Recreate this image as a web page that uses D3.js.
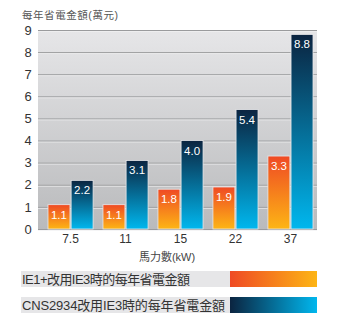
<!DOCTYPE html>
<html><head><meta charset="utf-8">
<script src="https://cdn.jsdelivr.net/npm/d3@7"></script>
<style>body{margin:0;background:#fff;} svg{display:block;font-family:"Liberation Sans","Noto Sans CJK TC",sans-serif;}</style>
</head><body>
<svg id="c" width="339" height="322"></svg>
<script>
const categories = ["7.5","11","15","22","37"];
const seriesIE1 = [1.1,1.1,1.8,1.9,3.3];
const seriesCNS = [2.2,3.1,4.0,5.4,8.8];
const yTicks = [0,1,2,3,4,5,6,7,8,9];
const seriesNames = ["IE1+改用IE3時的每年省電金額","CNS2934改用IE3時的每年省電金額"];
const yTitle = "每年省電金額(萬元)";
const xTitle = "馬力數(kW)";

const svg = d3.select("#c");
const defs = svg.append("defs");
function grad(id, x2, y2, stops){
  const g = defs.append("linearGradient").attr("id",id).attr("x1",0).attr("y1",0).attr("x2",x2).attr("y2",y2);
  stops.forEach(s=>g.append("stop").attr("offset",s[0]).attr("stop-color",s[1]));
}
grad("bg",0,1,[[0,"#e6e6e8"],[1,"#b9babc"]]);
grad("orV",0,1,[[0,"#ef4a24"],[1,"#fdb515"]]);
grad("blV",0,1,[[0,"#0b2440"],[1,"#00b7ee"]]);
grad("orH",1,0,[[0,"#ef4a24"],[1,"#fdb515"]]);
grad("blH",1,0,[[0,"#0b2440"],[1,"#00b7ee"]]);

const plotL = 38, plotR = 317, plotT = 30, plotB = 229;
const y = d3.scaleLinear().domain([0,9]).range([plotB, plotT]);
const x0 = d3.scaleBand().domain(categories).range([48,313]).paddingInner(0.18).paddingOuter(0);
const x1 = d3.scaleBand().domain([0,1]).range([0,x0.bandwidth()]).paddingInner(0.05);

svg.append("rect").attr("x",plotL).attr("y",plotT).attr("width",plotR-plotL).attr("height",plotB-plotT).attr("fill","url(#bg)");

// gridlines
const grid = svg.append("g");
yTicks.forEach(t=>{
  grid.append("line").attr("x1",plotL).attr("x2",plotR).attr("y1",y(t)+0.5).attr("y2",y(t)+0.5).attr("stroke","#9a9b9d").attr("stroke-width",1);
  grid.append("line").attr("x1",plotL).attr("x2",plotR).attr("y1",y(t)+1.5).attr("y2",y(t)+1.5).attr("stroke","#f2f2f3").attr("stroke-width",1).attr("opacity",0.7);
});

// y axis labels
const yAxis = d3.axisLeft(y).tickValues(yTicks).tickSize(0).tickPadding(0).tickFormat(d3.format("d"));
const ya = svg.append("g").attr("transform",`translate(${32},0)`).call(yAxis);
ya.select(".domain").remove();
ya.selectAll("text").attr("font-size",13).attr("fill","#333").attr("text-anchor","middle").attr("dx",-4);

// x axis labels
const xAxis = d3.axisBottom(x0).tickSize(0).tickPadding(0);
const xa = svg.append("g").attr("transform",`translate(0,${234})`).call(xAxis);
xa.select(".domain").remove();
xa.selectAll("text").attr("font-size",12).attr("fill","#333");

// bars
const series = [seriesIE1, seriesCNS];
const fills = ["url(#orV)","url(#blV)"];
series.forEach((vals,si)=>{
  const g = svg.append("g");
  g.selectAll("rect").data(vals).join("rect")
    .attr("x",(d,i)=>x0(categories[i])+x1(si))
    .attr("y",d=>y(d))
    .attr("width",x1.bandwidth())
    .attr("height",d=>y(0)-y(d))
    .attr("fill",fills[si])
    .attr("stroke","#e8e8ea").attr("stroke-width",0.8);
  g.selectAll("text").data(vals).join("text")
    .attr("x",(d,i)=>x0(categories[i])+x1(si)+x1.bandwidth()/2)
    .attr("y",d=>y(d)+14)
    .attr("text-anchor","middle").attr("font-size",11.5).attr("fill","#fff")
    .text(d=>d.toFixed(1));
});

// titles
svg.append("text").attr("x",22).attr("y",19).attr("font-size",10.5).attr("fill","#555")
  .attr("textLength",96).attr("lengthAdjust","spacing").text(yTitle);
svg.append("text").attr("x",167).attr("y",261).attr("text-anchor","middle").attr("font-size",11).attr("fill","#444").text(xTitle);

// legend
const legY = [271, 297];
const legW = [168, 203];
const legF = ["url(#orH)","url(#blH)"];
seriesNames.forEach((n,i)=>{
  svg.append("rect").attr("x",21).attr("y",legY[i]).attr("width",209).attr("height",16).attr("fill","#e6e6e8");
  svg.append("rect").attr("x",230).attr("y",legY[i]).attr("width",87).attr("height",16).attr("fill",legF[i]);
  svg.append("text").attr("x",22).attr("y",legY[i]+12.5).attr("font-size",13).attr("fill","#333")
    .attr("textLength",legW[i]).attr("lengthAdjust","spacing").text(n);
});
</script>
</body></html>
